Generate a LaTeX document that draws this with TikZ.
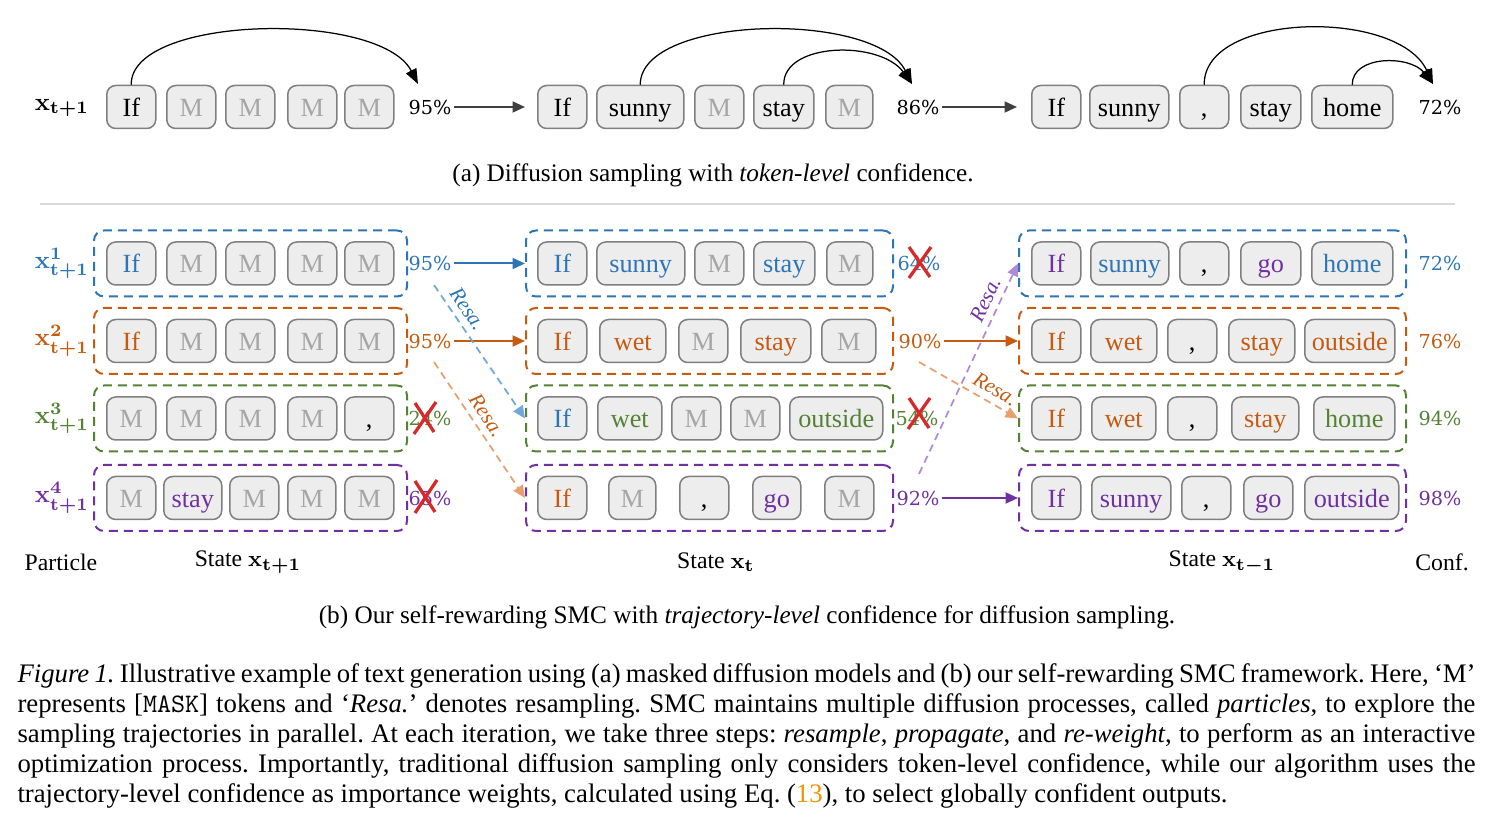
\documentclass[tikz,border=0pt]{standalone}
\usepackage{amsmath,amssymb}
\usepackage{fontspec}
\setmainfont{Liberation Serif}
\newfontfamily\numfont{DejaVu Serif}
\usepackage{xcolor}
\usepackage{tikz}
\usetikzlibrary{arrows.meta,calc}
\definecolor{cblue}{HTML}{2E75B6}
\definecolor{corange}{HTML}{C55A11}
\definecolor{cgreen}{HTML}{548235}
\definecolor{cpurple}{HTML}{7030A0}
\definecolor{lblue}{HTML}{6FA8DC}
\definecolor{lorange}{HTML}{E9A06F}
\definecolor{lpurple}{HTML}{B08AD8}
\definecolor{maskgray}{HTML}{A6A6A6}
\definecolor{tokfill}{HTML}{EDEDED}
\definecolor{tokline}{HTML}{7F7F7F}
\definecolor{crossred}{HTML}{D62A2A}
\definecolor{arrgray}{HTML}{404040}
\definecolor{rulegray}{HTML}{D9D9D9}
\definecolor{refor}{HTML}{F39200}
\newcommand{\xv}{\mathbf{x}}
\newcommand{\tokfont}{\fontsize{10.5}{12}\selectfont}

\begin{document}
\begin{tikzpicture}[
  x=0.4pt, y=-0.4pt,
  >={Triangle[length=5pt,width=4.4pt]},
  tok/.style={draw=tokline, fill=tokfill, line width=0.6pt, rounded corners=3.6pt,
              minimum height=17.2pt, inner sep=0pt, text height=8.8pt, text depth=1.2pt,
              anchor=west, font=\tokfont},
  tw/.style={minimum width=#1*0.4pt},
  msk/.style={tok, text=maskgray},
  ptcl/.style={draw=#1, line width=0.8pt, dash pattern=on 3.6pt off 2.4pt,
               rounded corners=4pt, minimum height=26.4pt, inner sep=0pt, anchor=west},
  pct/.style={font=\numfont\fontsize{7.7}{9}\selectfont, inner sep=1pt},
  xlbl/.style={font=\boldmath\fontsize{10}{12}\selectfont},
  plbl/.style={font=\boldmath\fontsize{9.5}{11}\selectfont},
  capt/.style={font=\fontsize{10.1}{12}\selectfont},
  flow/.style={->, line width=0.8pt},
  hop/.style={->, line width=0.5pt, >={Triangle[length=6pt,width=4.6pt]}},
  resa/.style={->, line width=0.7pt, dash pattern=on 3pt off 2pt},
  rlbl/.style={font=\itshape\fontsize{8.5}{10}\selectfont, sloped, above, inner sep=2.5pt},
  cross/.style={draw=crossred, line width=1.3pt},
]
\useasboundingbox (0,0) rectangle (1495,825);

% (a) token-level confidence
\node[xlbl] (xa) at (62,108) {$\xv_{\mathbf{t+1}}$};
\node[tok, tw=49] (a11) at (106,107) {If};
\node[msk, tw=49] (a12) at (166,107) {M};
\node[msk, tw=49] (a13) at (225,107) {M};
\node[msk, tw=49] (a14) at (287,107) {M};
\node[msk, tw=49] (a15) at (344,107) {M};
\node[pct] (pa1) at (430,107) {95\%};

\node[tok, tw=49] (a21) at (537,107) {If};
\node[tok, tw=87] (a22) at (596,107) {sunny};
\node[msk, tw=49] (a23) at (694,107) {M};
\node[tok, tw=60] (a24) at (753,107) {stay};
\node[msk, tw=47] (a25) at (825,107) {M};
\node[pct] (pa2) at (918,107) {86\%};

\node[tok, tw=49] (a31) at (1031,107) {If};
\node[tok, tw=79] (a32) at (1089,107) {sunny};
\node[tok, tw=49] (a33) at (1179,107) {,};
\node[tok, tw=60] (a34) at (1240,107) {stay};
\node[tok, tw=81] (a35) at (1311,107) {home};
\node[pct] (pa3) at (1440,107) {72\%};

\coordinate (ha1) at (418,84);
\coordinate (ha2) at (912,84);
\coordinate (ha3) at (1433,84);

\draw[flow, arrgray] (pa1.east) -- ([xshift=-4.8pt]a21.west);
\draw[flow, arrgray] (pa2.east) -- ([xshift=-5.6pt]a31.west);
\draw[hop] (a11.north) .. controls (130,15) and (380,10) .. (ha1);
\draw[hop] (a22.north) .. controls (640,15) and (875,10) .. (ha2);
\draw[hop] (a24.north) .. controls (783,42) and (880,40) .. (ha2);
\draw[hop] (a33.north) .. controls (1203,12) and (1398,8) .. (ha3);
\draw[hop] (a35.north) .. controls (1352,55) and (1410,55) .. (ha3);

\node[capt] (capa) at (713,175) {(a) Diffusion sampling with \textit{token-level} confidence.};
\draw[rulegray, line width=0.6pt] (40,204) -- (1455,204);

% (b) particles
\node[xlbl, text=cblue] (x1) at (62,263.5) {$\xv^{\mathbf{1}}_{\mathbf{t+1}}$};
\node[xlbl, text=corange] (x2) at (62,341) {$\xv^{\mathbf{2}}_{\mathbf{t+1}}$};
\node[xlbl, text=cgreen] (x3) at (62,418.5) {$\xv^{\mathbf{3}}_{\mathbf{t+1}}$};
\node[xlbl, text=cpurple] (x4) at (62,498) {$\xv^{\mathbf{4}}_{\mathbf{t+1}}$};

% State x_{t+1}
\node[ptcl=cblue, tw=313] (lbox1) at (93,263.5) {};
\node[ptcl=corange, tw=313] (lbox2) at (93,341) {};
\node[ptcl=cgreen, tw=313] (lbox3) at (93,418.5) {};
\node[ptcl=cpurple, tw=313] (lbox4) at (93,498) {};

\node[tok, tw=49, text=cblue] (l11) at (106,263.5) {If};
\node[msk, tw=49] (l12) at (166,263.5) {M};
\node[msk, tw=49] (l13) at (225,263.5) {M};
\node[msk, tw=49] (l14) at (287,263.5) {M};
\node[msk, tw=49] (l15) at (344,263.5) {M};

\node[tok, tw=49, text=corange] (l21) at (106,341) {If};
\node[msk, tw=49] (l22) at (166,341) {M};
\node[msk, tw=49] (l23) at (225,341) {M};
\node[msk, tw=49] (l24) at (287,341) {M};
\node[msk, tw=49] (l25) at (344,341) {M};

\node[msk, tw=49] (l31) at (106,418.5) {M};
\node[msk, tw=49] (l32) at (166,418.5) {M};
\node[msk, tw=49] (l33) at (225,418.5) {M};
\node[msk, tw=49] (l34) at (287,418.5) {M};
\node[tok, tw=49] (l35) at (344,418.5) {,};

\node[msk, tw=49] (l41) at (106,498) {M};
\node[tok, tw=58, text=cpurple] (l42) at (163,498) {stay};
\node[msk, tw=49] (l43) at (229,498) {M};
\node[msk, tw=48] (l44) at (287,498) {M};
\node[msk, tw=49] (l45) at (344,498) {M};

\node[pct, text=cblue] (pl1) at (430,263.5) {95\%};
\node[pct, text=corange] (pl2) at (430,341) {95\%};
\node[pct, text=cgreen] (pl3) at (430,418.5) {24\%};
\node[pct, text=cpurple] (pl4) at (430,498) {65\%};

% State x_t
\node[ptcl=cblue, tw=367] (mbox1) at (525,263.5) {};
\node[ptcl=corange, tw=367] (mbox2) at (525,341) {};
\node[ptcl=cgreen, tw=367] (mbox3) at (525,418.5) {};
\node[ptcl=cpurple, tw=367] (mbox4) at (525,498) {};

\node[tok, tw=49, text=cblue] (m11) at (537,263.5) {If};
\node[tok, tw=88, text=cblue] (m12) at (596,263.5) {sunny};
\node[msk, tw=49] (m13) at (694,263.5) {M};
\node[tok, tw=61, text=cblue] (m14) at (753,263.5) {stay};
\node[msk, tw=46] (m15) at (826,263.5) {M};

\node[tok, tw=49, text=corange] (m21) at (537,341) {If};
\node[tok, tw=66, text=corange] (m22) at (599,341) {wet};
\node[msk, tw=49] (m23) at (678,341) {M};
\node[tok, tw=70, text=corange] (m24) at (740,341) {stay};
\node[msk, tw=54] (m25) at (821,341) {M};

\node[tok, tw=49, text=cblue] (m31) at (537,418.5) {If};
\node[tok, tw=64, text=cgreen] (m32) at (597,418.5) {wet};
\node[msk, tw=49] (m33) at (671,418.5) {M};
\node[msk, tw=49] (m34) at (730,418.5) {M};
\node[tok, tw=93, text=cgreen] (m35) at (789,418.5) {outside};

\node[tok, tw=49, text=corange] (m41) at (537,498) {If};
\node[msk, tw=47] (m42) at (608,498) {M};
\node[tok, tw=49] (m43) at (679,498) {,};
\node[tok, tw=48, text=cpurple] (m44) at (752,498) {go};
\node[msk, tw=49] (m45) at (824,498) {M};

\node[pct, text=cblue] (pm1) at (919,263.5) {64\%};
\node[pct, text=corange] (pm2) at (920,341) {90\%};
\node[pct, text=cgreen] (pm3) at (917,418.5) {54\%};
\node[pct, text=cpurple] (pm4) at (918,498) {92\%};

% State x_{t-1}
\node[ptcl=cblue, tw=387] (rbox1) at (1018,263.5) {};
\node[ptcl=corange, tw=387] (rbox2) at (1018,341) {};
\node[ptcl=cgreen, tw=387] (rbox3) at (1018,418.5) {};
\node[ptcl=cpurple, tw=387] (rbox4) at (1018,498) {};

\node[tok, tw=49, text=cpurple] (r11) at (1031,263.5) {If};
\node[tok, tw=78, text=cblue] (r12) at (1090,263.5) {sunny};
\node[tok, tw=49] (r13) at (1179,263.5) {,};
\node[tok, tw=60, text=cpurple] (r14) at (1240,263.5) {go};
\node[tok, tw=81, text=cblue] (r15) at (1311,263.5) {home};

\node[tok, tw=49, text=corange] (r21) at (1031,341) {If};
\node[tok, tw=66, text=corange] (r22) at (1090,341) {wet};
\node[tok, tw=49] (r23) at (1167,341) {,};
\node[tok, tw=66, text=corange] (r24) at (1228,341) {stay};
\node[tok, tw=90, text=corange] (r25) at (1304,341) {outside};

\node[tok, tw=49, text=corange] (r31) at (1031,418.5) {If};
\node[tok, tw=64, text=corange] (r32) at (1091,418.5) {wet};
\node[tok, tw=49] (r33) at (1167,418.5) {,};
\node[tok, tw=67, text=corange] (r34) at (1231,418.5) {stay};
\node[tok, tw=81, text=cgreen] (r35) at (1313,418.5) {home};

\node[tok, tw=49, text=cpurple] (r41) at (1031,498) {If};
\node[tok, tw=79, text=cpurple] (r42) at (1091,498) {sunny};
\node[tok, tw=49] (r43) at (1181,498) {,};
\node[tok, tw=49, text=cpurple] (r44) at (1243,498) {go};
\node[tok, tw=94, text=cpurple] (r45) at (1304,498) {outside};

\node[pct, text=cblue] (pr1) at (1440,263.5) {72\%};
\node[pct, text=corange] (pr2) at (1440,341) {76\%};
\node[pct, text=cgreen] (pr3) at (1440,418.5) {94\%};
\node[pct, text=cpurple] (pr4) at (1440,498) {98\%};

% propagate
\draw[flow, cblue] (pl1.east) -- (mbox1.west);
\draw[flow, corange] (pl2.east) -- (mbox2.west);
\draw[flow, corange] (pm2.east) -- (rbox2.west);
\draw[flow, cpurple] (pm4.east) -- (rbox4.west);

% resample
\coordinate (s1) at (434,285);
\coordinate (s2) at (434,362);
\coordinate (s3) at (919,362);
\coordinate (s4) at (919,474);
\draw[resa, lblue] (s1) -- node[rlbl, text=cblue, pos=0.24] {Resa.} (mbox3.west);
\draw[resa, lorange] (s2) -- node[rlbl, text=corange, pos=0.45] {Resa.} (mbox4.west);
\draw[resa, lorange] (s3) -- node[rlbl, text=corange, pos=0.7] {Resa.} (rbox3.west);
\draw[resa, lpurple] (s4) -- node[rlbl, text=cpurple, pos=0.8] {Resa.} (rbox1.west);

% dropped weights
\draw[cross] (415,403) -- (434,432) (436,402) -- (414,434);
\draw[cross] (415,481) -- (435,512) (437,480) -- (415,513);
\draw[cross] (909,247) -- (930,277) (931,247) -- (909,278);
\draw[cross] (909,398) -- (929,428) (930,398) -- (908,429);

% column labels
\node[plbl] (lp) at (61,562) {Particle};
\node[plbl] (ls1) at (248,562) {State $\xv_{\mathbf{t+1}}$};
\node[plbl] (ls2) at (716,562) {State $\xv_{\mathbf{t}}$};
\node[plbl] (ls3) at (1222,562) {State $\xv_{\mathbf{t-1}}$};
\node[plbl] (lc) at (1442,562) {Conf.};

\node[capt] (capb) at (747,617) {(b) Our self-rewarding SMC with \textit{trajectory-level} confidence for diffusion sampling.};

% figure caption
\node[anchor=north west, inner sep=0pt, text width=583.2pt, align=justify,
      font=\fontsize{10.7}{12}\selectfont] (cap) at (17,663)
  {\frenchspacing\hyphenpenalty=10000 \textit{Figure 1.} Illustrative example of text generation using (a) masked diffusion models and (b) our self-rewarding SMC framework. Here, `M'\linebreak
   represents [\texttt{MASK}] tokens and `\textit{Resa.}' denotes resampling. SMC maintains multiple diffusion processes, called \textit{particles}, to explore the\linebreak
   sampling trajectories in parallel. At each iteration, we take three steps: \textit{resample}, \textit{propagate}, and \textit{re-weight}, to perform as an interactive\linebreak
   optimization process. Importantly, traditional diffusion sampling only considers token-level confidence, while our algorithm uses the\linebreak
   trajectory-level confidence as importance weights, calculated using Eq.~(\textcolor{refor}{13}), to select globally confident outputs.\par};
\end{tikzpicture}
\end{document}
